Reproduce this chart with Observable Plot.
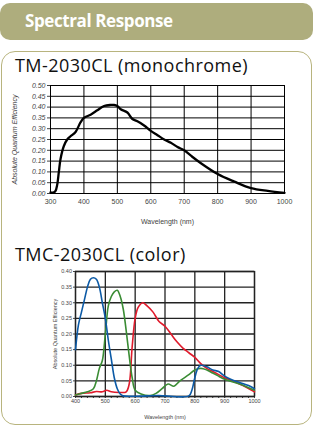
<!DOCTYPE html>
<html>
<head>
<meta charset="utf-8">
<script src="https://cdn.jsdelivr.net/npm/d3@7"></script>
<script src="https://cdn.jsdelivr.net/npm/@observablehq/plot@0.6"></script>
<style>
  html, body { margin: 0; padding: 0; background: #fff; width: 313px; height: 427px; overflow: hidden; }
  #header { position: absolute; left: 0; top: 3px; width: 313px; height: 37px; background: #aead7d; border-radius: 10px;
    color: #fff; font: bold 17px "Open Sans", sans-serif; letter-spacing: -0.4px; line-height: 36px; box-sizing: border-box; padding-left: 25px; }
  #panel { position: absolute; left: 1px; top: 51px; width: 311px; height: 374px; border: 1.5px solid #b8b47e; border-radius: 14px; box-sizing: border-box; }
  .title { position: absolute; left: 15px; font: 18px "Open Sans", sans-serif; line-height: 18px; color: #111; white-space: nowrap; letter-spacing: 0.45px; }
  .chart { position: absolute; left: 0; }
  .chart svg { overflow: visible; }
</style>
</head>
<body>
<div id="header">Spectral Response</div>
<div id="panel"></div>
<div class="title" style="top:56px">TM-2030CL (monochrome)</div>
<div class="title" style="top:245px">TMC-2030CL (color)</div>
<div id="c1" class="chart" style="top:80px"></div>
<div id="c2" class="chart" style="top:264px"></div>
<script>
// ---- Monochrome sensor (TM-2030CL)
const monoWl = [300, 310, 315, 320, 325, 330, 340, 350, 360, 375, 390, 400, 420, 440, 460, 480, 490, 500, 510, 530, 545, 560, 580, 600, 620, 640, 660, 680, 700, 720, 750, 800, 850, 900, 950, 1000];
const monoQE = [0.005, 0.005, 0.012, 0.04, 0.10, 0.16, 0.22, 0.25, 0.265, 0.285, 0.33, 0.35, 0.365, 0.385, 0.405, 0.41, 0.41, 0.405, 0.39, 0.375, 0.345, 0.335, 0.315, 0.29, 0.27, 0.25, 0.235, 0.215, 0.20, 0.175, 0.14, 0.09, 0.055, 0.025, 0.012, 0.003];
const monoXTicks = [300, 400, 500, 600, 700, 800, 900, 1000];
const monoYTicks = [0, 0.05, 0.10, 0.15, 0.20, 0.25, 0.30, 0.35, 0.40, 0.45, 0.50];

// ---- Color sensor (TMC-2030CL)
const blueWl = [400, 410, 420, 430, 440, 450, 460, 470, 480, 490, 500, 510, 520, 530, 540, 550, 560, 600, 680, 700, 780, 790, 800, 810, 820, 840, 860, 880, 900, 920, 950, 980, 1000];
const blueQE = [0.15, 0.23, 0.27, 0.31, 0.35, 0.375, 0.38, 0.375, 0.35, 0.30, 0.25, 0.18, 0.12, 0.06, 0.025, 0.008, 0.002, 0.001, 0.003, 0.002, 0.002, 0.02, 0.06, 0.09, 0.10, 0.095, 0.085, 0.08, 0.065, 0.055, 0.045, 0.035, 0.025];
const greenWl = [400, 420, 440, 460, 470, 480, 490, 500, 510, 520, 530, 540, 550, 560, 570, 580, 590, 600, 620, 650, 670, 690, 710, 730, 750, 780, 800, 820, 840, 860, 880, 900, 950, 1000];
const greenQE = [0.005, 0.01, 0.015, 0.025, 0.05, 0.09, 0.115, 0.20, 0.29, 0.32, 0.335, 0.34, 0.32, 0.28, 0.21, 0.13, 0.06, 0.02, 0.008, 0.003, 0.01, 0.025, 0.04, 0.033, 0.05, 0.07, 0.085, 0.09, 0.085, 0.075, 0.065, 0.055, 0.04, 0.02];
const redWl = [400, 420, 450, 470, 490, 505, 520, 550, 570, 580, 590, 600, 610, 625, 640, 660, 680, 700, 720, 740, 760, 780, 800, 820, 840, 860, 880, 900, 950, 1000];
const redQE = [0.005, 0.01, 0.012, 0.016, 0.015, 0.02, 0.015, 0.013, 0.015, 0.04, 0.16, 0.25, 0.285, 0.30, 0.29, 0.27, 0.24, 0.225, 0.20, 0.175, 0.155, 0.14, 0.125, 0.105, 0.09, 0.08, 0.07, 0.06, 0.04, 0.015];
const colorXTicks = [400, 500, 600, 700, 800, 900, 1000];
const colorMinorTicks = d3.range(400, 1001, 20);
const colorYTicks = [0, 0.05, 0.10, 0.15, 0.20, 0.25, 0.30, 0.35, 0.40];

const mono = monoWl.map((w, i) => ({w, q: monoQE[i]}));
const series = [
  {name: "red", wl: redWl, qe: redQE, color: "#e01b2c"},
  {name: "green", wl: greenWl, qe: greenQE, color: "#3a8c34"},
  {name: "blue", wl: blueWl, qe: blueQE, color: "#0c5aa6"}
];

const fmt = d3.format(".2f");
const fmtX = d3.format("d");

const p1 = Plot.plot({
  width: 313, height: 145,
  marginLeft: 50, marginRight: 29, marginTop: 5, marginBottom: 32,
  style: {fontFamily: "'Liberation Sans', Arial, sans-serif", fontSize: "7px", color: "#444", background: "transparent"},
  x: {domain: [300, 1000]},
  y: {domain: [0, 0.5]},
  marks: [
    Plot.gridX(monoXTicks, {stroke: "#000", strokeOpacity: 1, strokeWidth: 1}),
    Plot.gridY(monoYTicks, {stroke: "#000", strokeOpacity: 1, strokeWidth: 1}),
    Plot.axisX(monoXTicks, {tickSize: 0, tickPadding: 6, tickFormat: fmtX, label: "Wavelength (nm)", labelAnchor: "center", labelOffset: 30, labelArrow: "none", fill: "#444"}),
    Plot.axisY(monoYTicks, {tickSize: 3, tickPadding: 2, tickFormat: fmt, label: "Absolute Quantum Efficiency", labelAnchor: "center", labelOffset: 38, labelArrow: "none", fontStyle: "italic", fill: "#444"}),
    Plot.frame({stroke: "#000", strokeWidth: 1}),
    Plot.line(mono, {x: "w", y: "q", stroke: "#000", strokeWidth: 2.3, curve: "catmull-rom"})
  ]
});
document.getElementById("c1").appendChild(p1);

const p2 = Plot.plot({
  width: 313, height: 157,
  marginLeft: 75, marginRight: 59, marginTop: 7, marginBottom: 25,
  style: {fontFamily: "'Liberation Sans', Arial, sans-serif", fontSize: "5.5px", color: "#444", background: "transparent"},
  x: {domain: [400, 1000]},
  y: {domain: [0, 0.4]},
  marks: [
    Plot.gridX(colorXTicks, {stroke: "#222", strokeOpacity: 1, strokeWidth: 1.3}),
    Plot.gridY(colorYTicks, {stroke: "#222", strokeOpacity: 1, strokeWidth: 1.3}),
    Plot.axisX(colorMinorTicks, {tickSize: 2, tickFormat: () => "", label: null, stroke: "#333"}),
    Plot.axisX(colorXTicks, {tickSize: 2, tickPadding: 1, tickFormat: fmtX, label: "Wavelength (nm)", labelAnchor: "center", labelOffset: 22, labelArrow: "none", fill: "#444"}),
    Plot.axisY(colorYTicks, {tickSize: 2, tickPadding: 1.5, tickFormat: fmt, label: "Absolute Quantum Efficiency", labelAnchor: "center", labelOffset: 22, labelArrow: "none", fill: "#444"}),
    Plot.frame({stroke: "#222", strokeWidth: 1.3}),
    ...series.map(s => Plot.line(s.wl.map((w, i) => ({w, q: s.qe[i]})), {x: "w", y: "q", stroke: s.color, strokeWidth: 1.6, curve: "catmull-rom"}))
  ]
});
document.getElementById("c2").appendChild(p2);
</script>
</body>
</html>
